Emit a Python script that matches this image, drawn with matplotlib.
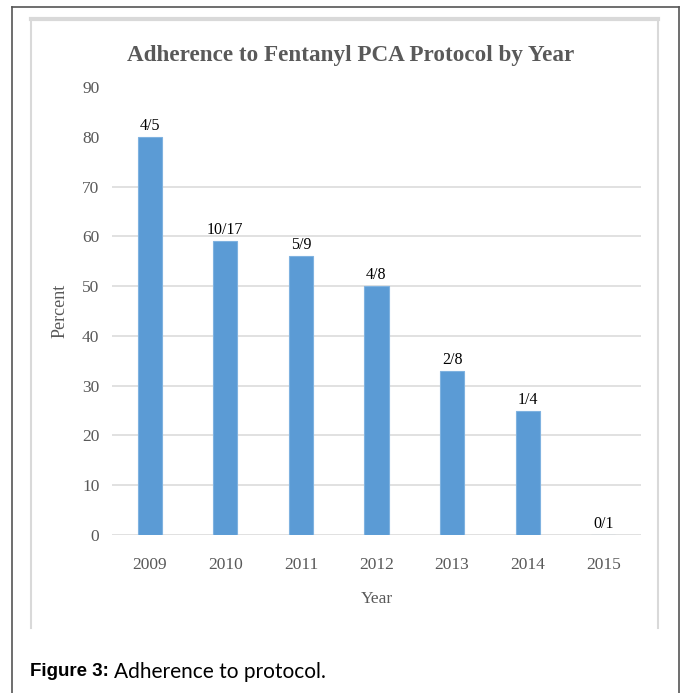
import matplotlib
matplotlib.use("Agg")
import matplotlib.pyplot as plt
from matplotlib.lines import Line2D

years = ["2009", "2010", "2011", "2012", "2013", "2014", "2015"]
percent = [80, 59, 56, 50, 33, 25, 0]
bar_labels = ["4/5", "10/17", "5/9", "4/8", "2/8", "1/4", "0/1"]
y_ticks = [0, 10, 20, 30, 40, 50, 60, 70, 80, 90]
grid_ticks = [0, 10, 20, 30, 40, 50, 60, 70]

W, H = 686, 693
fig = plt.figure(figsize=(W / 100, H / 100), dpi=100)
fig.patch.set_facecolor("white")

def px(x, y):
    # pixel coords (top-left origin) -> figure fraction
    return x / W, 1 - y / H

serif = "Liberation Serif"
gray = "#595959"

# outer page frame (open at the bottom)
fig.add_artist(Line2D([12 / W, 12 / W], [0, 1 - 7 / H], transform=fig.transFigure, color="#555555", lw=1.2))
fig.add_artist(Line2D([679 / W, 679 / W], [0, 1 - 7 / H], transform=fig.transFigure, color="#555555", lw=1.2))
fig.add_artist(Line2D([12 / W, 679 / W], [1 - 7 / H, 1 - 7 / H], transform=fig.transFigure, color="#555555", lw=1.2))

# chart area border
fig.add_artist(Line2D([31 / W, 31 / W], [1 - 628 / H, 1 - 19 / H], transform=fig.transFigure, color="#d9d9d9", lw=1.5))
fig.add_artist(Line2D([658 / W, 658 / W], [1 - 628 / H, 1 - 19 / H], transform=fig.transFigure, color="#d9d9d9", lw=1.5))
fig.add_artist(Line2D([31 / W, 658 / W], [1 - 19 / H, 1 - 19 / H], transform=fig.transFigure, color="#d9d9d9", lw=3))

left, top = px(112, 87)
right, bottom = px(641, 535)
ax = fig.add_axes([left, bottom, right - left, top - bottom])

x = range(len(years))
ax.bar(x, percent, width=0.32, color="#5b9bd5", edgecolor="#7fb2e0", linewidth=0.8, zorder=3)
ax.hlines(grid_ticks, -0.5, len(years) - 0.5, color="#d9d9d9", lw=1.1, zorder=1)

for i, (v, lab) in enumerate(zip(percent, bar_labels)):
    ax.text(i, v + 0.6, lab, ha="center", va="bottom", fontsize=11.5, family=serif, color="black")

ax.set_xlim(-0.5, len(years) - 0.5)
ax.set_ylim(0, 90)
ax.set_yticks(y_ticks)
ax.set_yticklabels([str(t) for t in y_ticks], family=serif, fontsize=12.5, color=gray)
ax.set_xticks(list(x))
ax.set_xticklabels(years, family=serif, fontsize=12.5, color=gray)
ax.tick_params(length=0, pad=9, axis="y")
ax.tick_params(length=0, pad=16, axis="x")
for s in ax.spines.values():
    s.set_visible(False)

ax.set_xlabel("Year", family=serif, fontsize=12.5, color=gray, labelpad=13)
ax.set_ylabel("Percent", family=serif, fontsize=13, color=gray, labelpad=10)

tx, ty = px(351, 55)
fig.text(tx, ty, "Adherence to Fentanyl PCA Protocol by Year", ha="center", va="center",
         family=serif, fontsize=16.7, fontweight="bold", color=gray)

# caption below the chart
cx, cy = px(30, 672)
t1 = fig.text(cx, cy, "Figure 3:", ha="left", va="center", family="Liberation Sans",
              fontweight="bold", fontsize=13.5, color="black")
fig.canvas.draw()
bb = t1.get_window_extent()
fig.text((bb.x1 + 5) / W, cy, "Adherence to protocol.", ha="left", va="center",
         family="Lato", fontsize=15, color="black")

fig.savefig("out.png", dpi=100)
